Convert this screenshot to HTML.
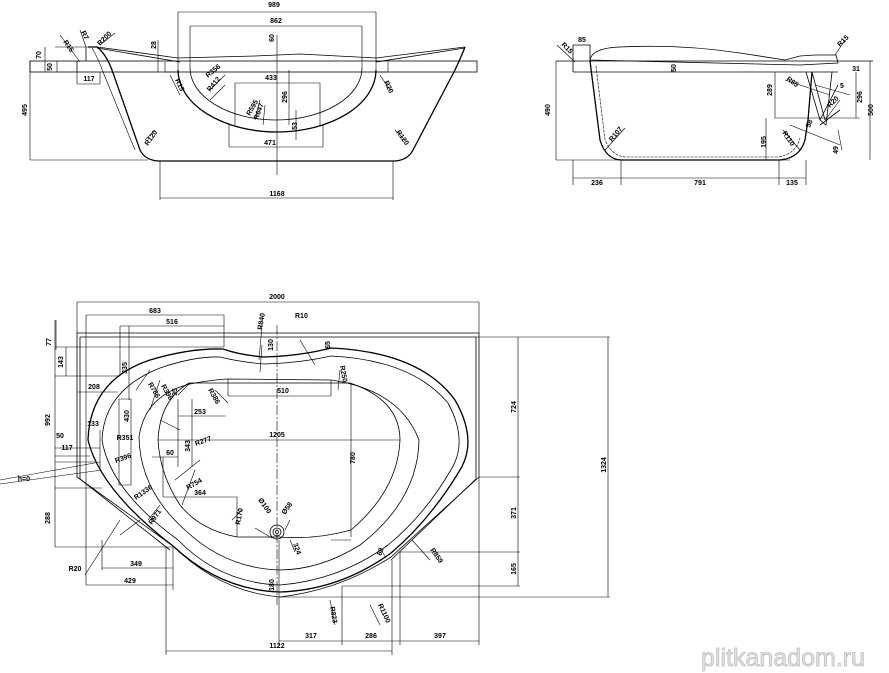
<!DOCTYPE html>
<html><head><meta charset="utf-8"><style>
html,body{margin:0;padding:0;background:#fff}
svg{display:block}
text{font-family:"Liberation Sans",sans-serif;font-size:7px;font-weight:bold;fill:#000}
.l{stroke:#000;stroke-width:0.8;fill:none}
.t{stroke:#000;stroke-width:1.3;fill:none}
.d{stroke:#000;stroke-width:0.6;fill:none}
.wm{font-size:25px;font-weight:normal;fill:#e4e4e4;stroke:#bdbdbd;stroke-width:0.8;letter-spacing:0px}
</style></head><body>
<svg width="889" height="673" viewBox="0 0 889 673" xmlns="http://www.w3.org/2000/svg">
<!-- ============ FRONT VIEW ============ -->
<g>
<rect x="30" y="61" width="447" height="11" class="l"/>
<line x1="30" y1="61" x2="30" y2="160" class="d"/>
<line x1="30" y1="160" x2="148" y2="160" class="d"/>
<path d="M88,47 L97,47 Q106,54 112,70 L140,150 Q145,160 158,161 L395,161 Q408,160 413,150 L455,70 Q462,55 465,47" class="t"/>
<path d="M92,48 Q98,58 103,72 L135,150" class="d"/>
<path d="M86,47 L86,61 M77,61 L77,72 M97,47 L178,58 L255,56 L300,54 L376,58 L465,47 M97,48 L180,62 M376,62 L465,48" class="l"/>
<path d="M55,47 L97,47" class="d"/>
<!-- bowl -->
<path d="M178,70 A99,62 0 0 0 376,70" class="t"/>
<path d="M190,68 A86,52 0 0 0 362,68" class="l"/>
<path d="M165,62 L165,72 L178,72 M376,72 L388,72 L388,62" class="d"/>
<!-- dims -->
<path d="M178,12 L376,12 M178,12 L178,72 M376,12 L376,72" class="d"/>
<path d="M190,26 L362,26 M190,26 L190,68 M362,26 L362,68" class="d"/>
<line x1="277" y1="35" x2="277" y2="175" class="d"/>
<path d="M235,83 L320,83 M235,83 L235,125 M320,83 L320,125" class="d"/>
<path d="M229,147 L323,147 M229,125 L229,147 M323,125 L323,147" class="d"/>
<path d="M289,70 L289,125 M296,110 L296,140" class="d"/>
<path d="M160,161 L160,200 M393,161 L393,200 M160,198 L393,198" class="d"/>
<path d="M45,47 L45,72 M57,61 L57,72 M77,84 L100,84 M77,72 L77,84 M100,72 L100,84" class="d"/>
<path d="M158,40 L158,72" class="d"/>
<path d="M60,35 L80,62 M80,30 L86,47 M100,45 L115,33 M170,75 L180,95 M380,75 L390,90 M145,140 L155,130 M395,130 L405,140 M210,90 L225,75 M210,100 L225,85 M255,120 L260,100 M263,125 L265,105" class="d"/>
<text x="274" y="7" text-anchor="middle" font-size="7">989</text>
<text x="276" y="23" text-anchor="middle">862</text>
<text x="271" y="80" text-anchor="middle">433</text>
<text x="270" y="145" text-anchor="middle">471</text>
<text x="277" y="196" text-anchor="middle">1168</text>
<text x="89" y="81" text-anchor="middle">117</text>
<text transform="translate(27,110) rotate(-90)" text-anchor="middle">495</text>
<text transform="translate(41,55) rotate(-90)" text-anchor="middle">70</text>
<text transform="translate(52,67) rotate(-90)" text-anchor="middle">50</text>
<text transform="translate(156,45) rotate(-90)" text-anchor="middle">28</text>
<text transform="translate(274,38) rotate(-90)" text-anchor="middle">60</text>
<text transform="translate(287,97) rotate(-90)" text-anchor="middle">296</text>
<text transform="translate(297,126) rotate(-90)" text-anchor="middle">53</text>
<text transform="translate(63,42) rotate(55)">R15</text>
<text transform="translate(81,32) rotate(65)">R7</text>
<text transform="translate(100,46) rotate(-45)">R200</text>
<text transform="translate(175,80) rotate(65)">R15</text>
<text transform="translate(384,82) rotate(65)">R20</text>
<text transform="translate(208,78) rotate(-40)">R356</text>
<text transform="translate(210,92) rotate(-50)">R412</text>
<text transform="translate(250,116) rotate(-60)">R595</text>
<text transform="translate(258,120) rotate(-70)">R647</text>
<text transform="translate(148,146) rotate(-55)">R120</text>
<text transform="translate(396,132) rotate(55)">R120</text>
</g>
<!-- ============ SIDE VIEW ============ -->
<g>
<path d="M556,61 L873,61 M573,72 L838,72 M573,61 L573,72" class="l"/>
<path d="M573,45 L590,45 L590,61 M573,45 L573,61" class="l"/>
<path d="M590,60 Q592,48 620,47 Q680,44 740,53 L785,60 L800,56 L815,55 L836,55 L838,63 L800,65 Z" class="l"/>
<path d="M590,61 L600,140 Q606,160 622,160 L780,160 Q800,158 805,140 L808,120 L812,72" class="t"/>
<path d="M596,66 L605,140 Q612,156 625,157 L778,157 Q796,154 800,138" class="d" stroke-dasharray="3,1"/>
<path d="M806,72 L820,120 L826,125 L832,72 M812,72 L825,120 M820,120 L838,85 M820,125 L840,110" class="l"/>
<path d="M775,72 L775,118 L860,118 M766,118 L766,160 M766,160 L790,160 M856,72 L856,118 M870,61 L870,160 M556,160 L620,160" class="d"/>
<path d="M556,61 L556,160 M573,160 L573,185 M621,160 L621,185 M779,160 L779,185 M806,160 L806,185 M573,178 L806,178" class="d"/>
<path d="M557,45 L575,62 M845,40 L835,55 M785,80 L830,95 M815,85 L850,95 M840,100 L825,120 M790,125 L840,145 M838,130 L842,150 M605,150 L625,128 M783,130 L800,150" class="d"/>
<text x="582" y="42" text-anchor="middle">85</text>
<text x="856" y="71" text-anchor="middle">31</text>
<text x="597" y="185" text-anchor="middle">236</text>
<text x="700" y="185" text-anchor="middle">791</text>
<text x="792" y="185" text-anchor="middle">135</text>
<text x="842" y="88" text-anchor="middle">5</text>
<text transform="translate(550,110) rotate(-90)" text-anchor="middle">490</text>
<text transform="translate(676,68) rotate(-90)" text-anchor="middle">50</text>
<text transform="translate(772,90) rotate(-90)" text-anchor="middle">289</text>
<text transform="translate(862,97) rotate(-90)" text-anchor="middle">296</text>
<text transform="translate(873,110) rotate(-90)" text-anchor="middle">500</text>
<text transform="translate(766,142) rotate(-90)" text-anchor="middle">195</text>
<text transform="translate(838,150) rotate(-90)" text-anchor="middle">49</text>
<text transform="translate(561,45) rotate(45)">R15</text>
<text transform="translate(840,47) rotate(-45)">R15</text>
<text transform="translate(786,80) rotate(35)">R85</text>
<text transform="translate(830,108) rotate(-45)">R20</text>
<text transform="translate(810,128) rotate(-70)">58</text>
<text transform="translate(612,142) rotate(-50)">R107</text>
<text transform="translate(782,133) rotate(55)">R110</text>
</g>
<!-- ============ PLAN VIEW ============ -->
<g>
<!-- outer deck -->
<path d="M77,333 L479,333 L479,477 L391,557 Q340,590 280,597 Q220,592 173,546 L77,477 Z" class="l"/>
<path d="M80,337 L476,337 L476,479 L391,560" class="l"/>
<path d="M80,337 L80,479 L170,550" class="l"/>
<!-- tub outer -->
<path d="M223,349 Q240,355 264,357 Q300,356 331,348 Q420,352 455,400 Q478,440 460,470 Q430,520 391,553 Q340,590 280,592 Q220,590 173,546 Q100,490 88,440 Q90,380 150,360 Q190,348 223,349 Z" class="t"/>
<path d="M220,357 Q240,362 264,364 Q300,363 331,356 Q412,360 448,403 Q468,440 452,468 Q425,515 388,545 Q340,580 280,585 Q220,583 178,540 Q110,490 102,440 Q104,390 160,368 Q195,356 220,357 Z" class="l"/>
<path d="M227,379 L331,380 Q400,390 419,440 Q418,500 360,545 Q320,570 279,570 Q225,568 185,530 Q140,490 139,437 Q145,395 190,384 Q210,380 227,379 Z" class="l"/>
<path d="M189,383 L350,383 Q400,400 400,440 Q398,490 351,530 Q315,540 279,537 L237,537 Q200,530 180,505 Q160,475 158,440 Q160,400 189,383 Z" class="l"/>
<!-- drain -->
<circle cx="277" cy="532" r="7" class="l"/><circle cx="277" cy="532" r="4" class="l"/><circle cx="277" cy="532" r="1.5" class="l"/>
<!-- center lines -->
<line x1="277" y1="325" x2="277" y2="605" class="d" stroke-dasharray="10,2,2,2"/>
<line x1="158" y1="440" x2="400" y2="440" class="d"/>
<!-- dims -->
<path d="M77,302 L479,302 M77,302 L77,333 M479,302 L479,333" class="d"/>
<path d="M86,315 L224,315 M86,315 L86,585 M224,315 L224,347" class="d"/>
<path d="M120,326 L224,326 M120,326 L120,376" class="d"/>
<path d="M55,347 L224,347 M55,376 L120,376 M56,320 L56,350 M66,347 L66,376" class="d"/>
<path d="M129,326 L129,400 M77,392 L118,392 M119,399 L131,399 L131,485 L119,485 Z M55,320 L55,547 M55,488 L102,488 M55,547 L173,547" class="d"/>
<path d="M55,448 L100,448 M55,456 L90,456 M55,462 L95,462 M100,430 L100,470" class="d"/>
<path d="M228,396 L331,396 M228,379 L228,396 M331,380 L331,396 M178,416 L226,416 M178,399 L178,467 M192,399 L192,467 M152,457 L178,457 M163,457 L163,497 M163,497 L237,497 L237,537" class="d"/>
<path d="M351,383 L351,537 M331,540 L351,540" class="d"/>
<path d="M479,477 L520,477 M400,552 L520,552 M342,586 L520,586 M280,597 L610,597 M476,337 L610,337 M518,337 L518,586 M608,337 L608,597" class="d"/>
<path d="M102,540 L102,570 M102,568 L173,568 M173,547 L173,590 M86,585 L173,585" class="d"/>
<path d="M166,547 L166,655 M166,651 L392,651 M392,560 L392,655 M279,540 L279,645 M342,586 L342,645 M400,552 L400,645 M479,477 L479,645 M279,641 L479,641" class="d"/>
<!-- leaders -->
<path d="M0,480 L100,462 M0,484 L102,470 M85,575 L120,520 M120,535 L140,520 M148,520 L160,505 M175,480 L200,460 M180,430 L160,420 M300,340 L315,365 M262,325 L259,360 M260,372 L262,345 M340,370 L338,390 M136,390 L150,370 M150,410 L160,380 M178,395 L190,383 M228,403 L215,390 M182,505 L195,470 M232,520 L242,510 M255,528 L272,538 M285,530 L290,520 M290,540 L295,552 M380,548 L386,558 M412,540 L430,560 M330,600 L335,625 M370,605 L380,625" class="d"/>
<!-- labels -->
<text x="277" y="299" text-anchor="middle">2000</text>
<text x="155" y="313" text-anchor="middle">683</text>
<text x="172" y="324" text-anchor="middle">516</text>
<text x="94" y="389" text-anchor="middle">208</text>
<text x="60" y="438" text-anchor="middle">50</text>
<text x="67" y="450" text-anchor="middle">117</text>
<text x="93" y="426" text-anchor="middle">133</text>
<text x="283" y="393" text-anchor="middle">510</text>
<text x="200" y="414" text-anchor="middle">253</text>
<text x="277" y="437" text-anchor="middle">1205</text>
<text x="170" y="455" text-anchor="middle">60</text>
<text x="200" y="495" text-anchor="middle">364</text>
<text x="136" y="566" text-anchor="middle">349</text>
<text x="130" y="583" text-anchor="middle">429</text>
<text x="277" y="648" text-anchor="middle">1122</text>
<text x="311" y="638" text-anchor="middle">317</text>
<text x="371" y="638" text-anchor="middle">286</text>
<text x="440" y="638" text-anchor="middle">397</text>
<text x="125" y="440" text-anchor="middle">R351</text>
<text x="75" y="571" text-anchor="middle">R20</text>
<text x="30" y="481" text-anchor="end">h=0</text>
<text x="295" y="318">R10</text>
<text transform="translate(51,342) rotate(-90)" text-anchor="middle">77</text>
<text transform="translate(63,362) rotate(-90)" text-anchor="middle">143</text>
<text transform="translate(50,420) rotate(-90)" text-anchor="middle">992</text>
<text transform="translate(50,518) rotate(-90)" text-anchor="middle">288</text>
<text transform="translate(127,368) rotate(-90)" text-anchor="middle">335</text>
<text transform="translate(129,416) rotate(-90)" text-anchor="middle">430</text>
<text transform="translate(190,446) rotate(-90)" text-anchor="middle">343</text>
<text transform="translate(177,392) rotate(-90)" text-anchor="middle">95</text>
<text transform="translate(273,345) rotate(-90)" text-anchor="middle">130</text>
<text transform="translate(330,345) rotate(-90)" text-anchor="middle">65</text>
<text transform="translate(355,458) rotate(-90)" text-anchor="middle">780</text>
<text transform="translate(516,407) rotate(-90)" text-anchor="middle">724</text>
<text transform="translate(516,513) rotate(-90)" text-anchor="middle">371</text>
<text transform="translate(516,569) rotate(-90)" text-anchor="middle">165</text>
<text transform="translate(606,465) rotate(-90)" text-anchor="middle">1324</text>
<text transform="translate(274,585) rotate(-90)" text-anchor="middle">180</text>
<text transform="translate(262,330) rotate(-80)">R840</text>
<text transform="translate(340,366) rotate(80)">R250</text>
<text transform="translate(148,384) rotate(60)">R786</text>
<text transform="translate(161,386) rotate(60)">R396</text>
<text transform="translate(208,390) rotate(60)">R386</text>
<text transform="translate(196,446) rotate(-20)">R277</text>
<text transform="translate(116,463) rotate(-20)">R396</text>
<text transform="translate(188,490) rotate(-30)">R754</text>
<text transform="translate(136,500) rotate(-35)">R1336</text>
<text transform="translate(152,525) rotate(-55)">R971</text>
<text transform="translate(240,525) rotate(-80)">R170</text>
<text transform="translate(258,500) rotate(55)">Ø100</text>
<text transform="translate(285,515) rotate(-55)">Ø58</text>
<text transform="translate(293,544) rotate(70)">324</text>
<text transform="translate(381,556) rotate(-70)">88</text>
<text transform="translate(430,550) rotate(55)">R859</text>
<text transform="translate(330,607) rotate(80)">R823</text>
<text transform="translate(378,605) rotate(65)">R1100</text>
</g>
<text x="701" y="666" class="wm">plitkanadom.ru</text>
</svg>
</body></html>
